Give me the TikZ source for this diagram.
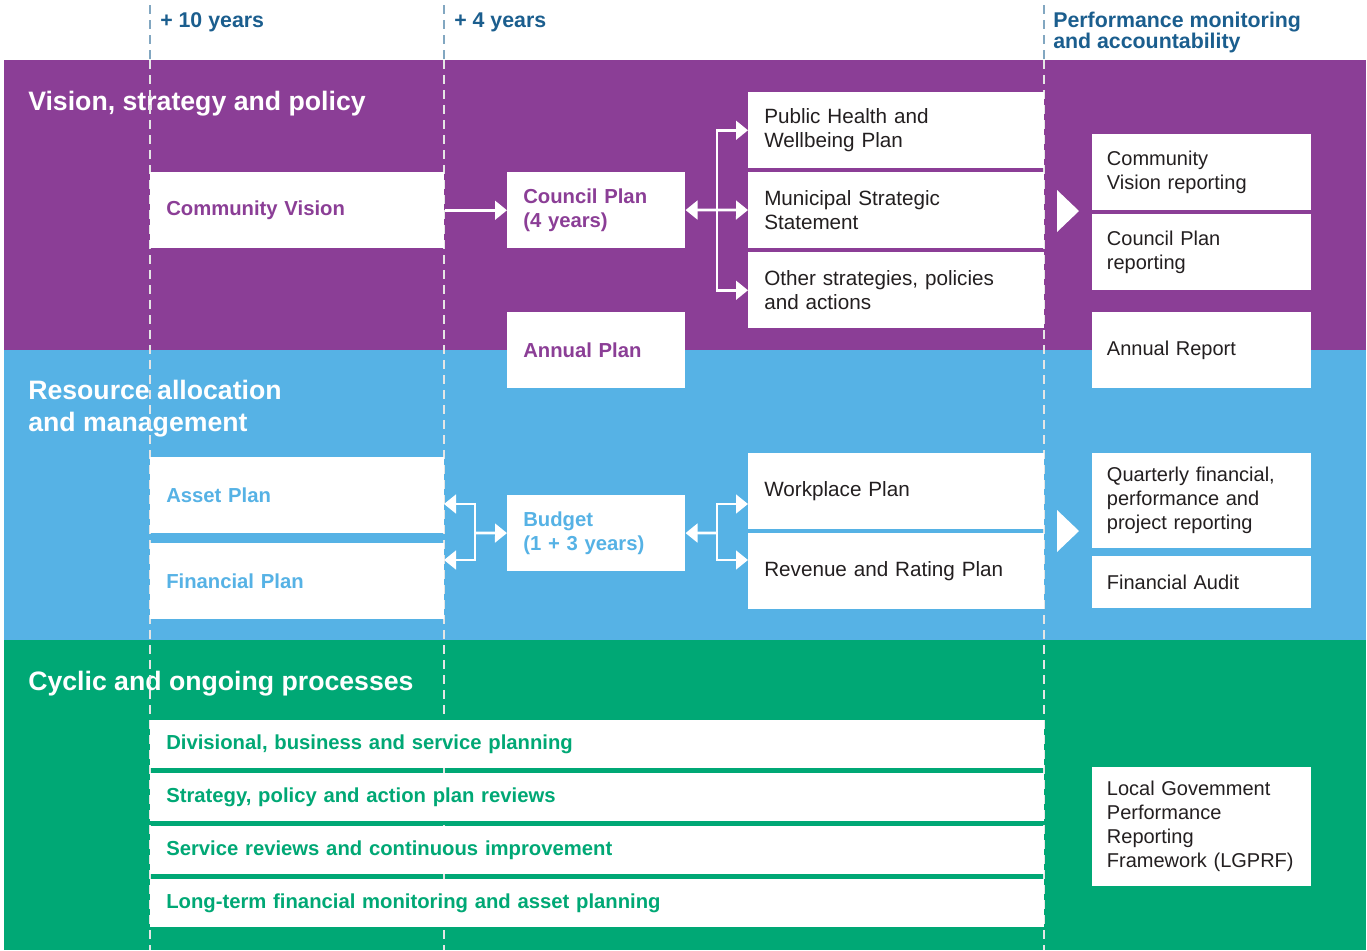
\documentclass[tikz,border=0pt]{standalone}
\usepackage{fontspec}
\setmainfont{Liberation Sans}
\usetikzlibrary{arrows.meta}
\definecolor{vsp}{RGB}{139,62,150}
\definecolor{ram}{RGB}{86,178,229}
\definecolor{cop}{RGB}{0,168,117}
\definecolor{hdr}{RGB}{27,94,142}
\definecolor{ink}{RGB}{35,31,32}

\begin{document}
\begin{tikzpicture}[x=0.75pt,y=-0.75pt,>={Triangle[length=9pt,width=14pt]},
  every node/.style={font=\fontsize{15.5}{18}\selectfont},
  box/.style={fill=white,anchor=north west,inner xsep=12pt,inner ysep=0pt,align=left,minimum height=57pt,text=ink},
  lead/.style={font=\bfseries\fontsize{15.2}{18}\selectfont},
  lbox/.style={box,text width=196.5pt},
  cbox/.style={box,text width=109.5pt},
  pbox/.style={box,text width=198pt},
  rbox/.style={box,inner xsep=11pt,text width=142.25pt,font=\fontsize{15}{18}\selectfont},
  wbox/.style={box,text width=646.5pt,minimum height=36pt},
  title/.style={text=white,font=\bfseries\fontsize{20}{24}\selectfont,inner sep=0pt,align=left},
  head/.style={text=hdr,font=\bfseries\fontsize{16}{15.75}\selectfont,inner sep=0pt,align=left},
  link/.style={draw=white,line width=2pt},
  guide/.style={dash pattern=on 6.75pt off 4.5pt,line width=1pt}]
  \useasboundingbox (0,0) rectangle (1367,950);

  % bands
  \fill[vsp] (4,60) rectangle (1366,350);
  \fill[ram] (4,350) rectangle (1366,640);
  \fill[cop] (4,640) rectangle (1366,950);

  % headings
  \node[head,anchor=base west] (h10) at (160,27) {+ 10 years};
  \node[head,anchor=base west] (h4) at (454,27) {+ 4 years};
  \node[head,anchor=west] (hpm) at (1053,32) {Performance monitoring\\and accountability};
  \node[title,anchor=base west] (tv) at (28,110) {Vision, strategy and policy};
  \node[title,anchor=west] (tr) at (28,409) {Resource allocation\\and management};
  \node[title,anchor=base west] (tc) at (28,690) {Cyclic and ongoing processes};

  % time guides
  \foreach \gx in {150,444,1044} {
    \draw[guide,hdr!55] (\gx,5) -- (\gx,60);
    \draw[guide,white!80!gray] (\gx,60) -- (\gx,950);
  }

  % vision, strategy and policy
  \node[lbox,lead,text=vsp] (cv) at (150,172) {Community Vision};
  \node[cbox,lead,text=vsp] (cp) at (507,172) {Council Plan\\(4 years)};
  \node[cbox,lead,text=vsp] (anp) at (507,312) {Annual Plan};
  \node[pbox] (ph) at (748,92) {Public Health and\\Wellbeing Plan};
  \node[pbox] (ms) at (748,172) {Municipal Strategic\\Statement};
  \node[pbox] (os) at (748,252) {Other strategies, policies\\and actions};
  \node[rbox] (cvr) at (1092,134) {Community\\Vision reporting};
  \node[rbox] (cpr) at (1092,214) {Council Plan\\reporting};
  \node[rbox] (ar) at (1092,312) {Annual Report};

  % resource allocation and management
  \node[lbox,lead,text=ram] (ap) at (150,457) {Asset Plan};
  \node[lbox,lead,text=ram] (fp) at (150,543) {Financial Plan};
  \node[cbox,lead,text=ram] (bu) at (507,495) {Budget\\(1 + 3 years)};
  \node[pbox] (wp) at (748,453) {Workplace Plan};
  \node[pbox] (rr) at (748,533) {Revenue and Rating Plan};
  \node[rbox,minimum height=71.25pt] (qr) at (1092,453) {Quarterly financial,\\performance and\\project reporting};
  \node[rbox,minimum height=39pt] (fa) at (1092,556) {Financial Audit};

  % cyclic and ongoing processes
  \node[wbox,lead,text=cop] (dv) at (150,720) {Divisional, business and service planning};
  \node[wbox,lead,text=cop] (sp) at (150,773) {Strategy, policy and action plan reviews};
  \node[wbox,lead,text=cop] (sr) at (150,826) {Service reviews and continuous improvement};
  \node[wbox,lead,text=cop] (lt) at (150,879) {Long-term financial monitoring and asset planning};
  \node[rbox,minimum height=89.25pt] (lg) at (1092,767) {Local Govemment\\Performance\\Reporting\\Framework (LGPRF)};

  % links
  \path (cv) edge[link,->] (cp);
  \coordinate (cpf) at (717,210);
  \draw[link,->] (cpf) -- (cp);
  \draw[link,->] (cpf) |- (ph);
  \draw[link,->] (cpf) -- (ms);
  \draw[link,->] (cpf) |- (os);

  \coordinate (bul) at (475,533);
  \coordinate (apin) at (444,504);
  \coordinate (fpin) at (444,560);
  \draw[link,->] (bul) -- (bu);
  \draw[link,->] (bul) |- (apin);
  \draw[link,->] (bul) |- (fpin);

  \coordinate (bur) at (717,533);
  \coordinate (wpin) at (748,504);
  \coordinate (rrin) at (748,560);
  \draw[link,->] (bur) -- (bu);
  \draw[link,->] (bur) |- (wpin);
  \draw[link,->] (bur) |- (rrin);

  % into reporting
  \fill[white] (1057,190) -- (1079,211) -- (1057,232) -- cycle;
  \fill[white] (1057,510) -- (1079,531) -- (1057,552) -- cycle;
\end{tikzpicture}
\end{document}
